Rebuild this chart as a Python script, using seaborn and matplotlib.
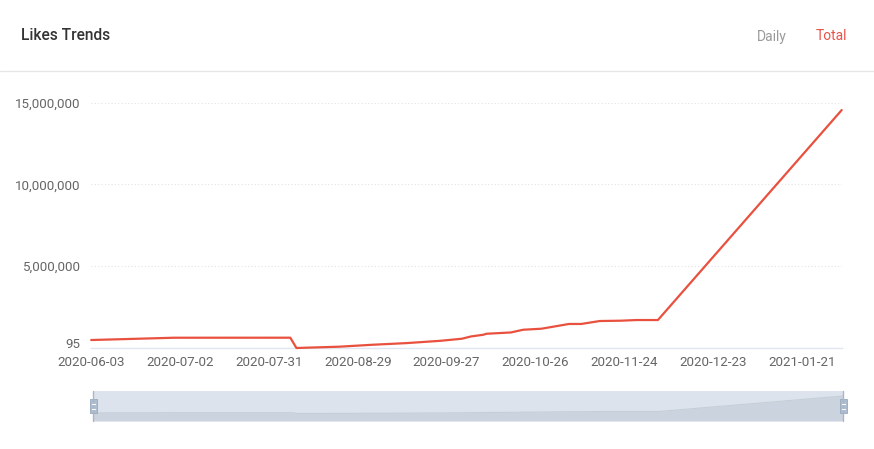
import matplotlib
matplotlib.use("Agg")
import matplotlib.pyplot as plt
import matplotlib.patches as mpatches
from matplotlib.lines import Line2D
import seaborn as sns
import pandas as pd

# ---- data ----
dates = ["2020-06-03", "2020-06-17", "2020-06-30", "2020-08-07", "2020-08-09",
         "2020-08-23", "2020-09-03", "2020-09-14", "2020-09-25", "2020-10-02",
         "2020-10-05", "2020-10-09", "2020-10-10", "2020-10-18", "2020-10-22",
         "2020-10-28", "2020-11-06", "2020-11-10", "2020-11-16", "2020-11-23",
         "2020-11-28", "2020-12-05", "2021-02-03"]
likes = [488000, 560000, 628000, 630000, 95,
         80000, 200000, 300000, 440000, 567000,
         707000, 810000, 870000, 950000, 1116000,
         1180000, 1470000, 1470000, 1650000, 1670000,
         1710000, 1710000, 14550000]
tick_dates = ["2020-06-03", "2020-07-02", "2020-07-31", "2020-08-29", "2020-09-27",
              "2020-10-26", "2020-11-24", "2020-12-23", "2021-01-21"]
y_ticks = [95, 5000000, 10000000, 15000000]
x_start, x_end = "2020-06-03", "2021-02-03"
title = "Likes Trends"
toggles = ["Daily", "Total"]

LINE = "#e9513f"
W, H = 874, 449

sns.set_theme(style="white")
plt.rcParams['font.family'] = ['Roboto', 'DejaVu Sans']

df = pd.DataFrame({"date": pd.to_datetime(dates), "likes": likes})

fig = plt.figure(figsize=(W / 100, H / 100), dpi=100)

def fx(px):
    return px / W

def fy(py):
    return 1 - py / H

# main axes
ax = fig.add_axes([fx(91.2), fy(348), fx(841.7 - 91.2), (348 - 102.7) / H])
sns.lineplot(data=df, x="date", y="likes", ax=ax, color=LINE, linewidth=1.6)
for ln in ax.lines:
    ln.set_clip_on(False)
ax.set_xlim(pd.Timestamp(x_start), pd.Timestamp(x_end))
ax.set_ylim(y_ticks[0], y_ticks[-1])
ax.set_xticks(pd.to_datetime(tick_dates))
ax.set_xticklabels(tick_dates)
ax.set_yticks(y_ticks)
ax.set_yticklabels([f"{v:,}" for v in y_ticks])
ax.set_xlabel("")
ax.set_ylabel("")
ax.tick_params(axis="both", length=0, labelsize=9.6, colors="#666666")
ax.tick_params(axis="x", pad=6)
ax.tick_params(axis="y", pad=8)
for s in ["top", "right", "left"]:
    ax.spines[s].set_visible(False)
ax.spines["bottom"].set_color("#e0e6f1")
ax.spines["bottom"].set_linewidth(1)
ax.spines["bottom"].set_zorder(0)
ax.yaxis.grid(True, linestyle=(0, (1, 2)), color="#e3e3e3", linewidth=0.8)
ax.xaxis.grid(False)
ax.set_axisbelow(True)
# keep the bottom "95" label just above the date labels
ax.get_yticklabels()[0].set_va("baseline")

# header
fig.text(fx(21), fy(35), title, fontsize=11.2, fontweight="medium",
         color="#333333", va="center", ha="left")
fig.text(fx(757), fy(36.5), toggles[0], fontsize=10, color="#9a9a9a",
         va="center", ha="left")
fig.text(fx(816), fy(36.5), toggles[1], fontsize=10, color="#e8544a",
         va="center", ha="left")
fig.add_artist(Line2D([0, 1], [fy(70.7), fy(70.7)], color="#e6e6e6", lw=1))

# slider (data zoom)
sax = fig.add_axes([fx(93.3), fy(421), fx(843.3 - 93.3), 30 / H])
sax.set_facecolor("#dce3ec")
lo, hi = -6240000, 18700000
sns.lineplot(data=df, x="date", y="likes", ax=sax, color="#c5cdd8", linewidth=0.8)
sax.fill_between(df["date"], df["likes"], lo, color="#cbd3de", linewidth=0)
sax.set_xlim(pd.Timestamp(x_start), pd.Timestamp(x_end))
sax.set_ylim(lo, hi)
sax.set_xticks([])
sax.set_yticks([])
sax.set_xlabel("")
sax.set_ylabel("")
for s in sax.spines.values():
    s.set_visible(False)

for hx in (93.3, 843.3):
    fig.add_artist(Line2D([fx(hx), fx(hx)], [fy(391), fy(421)], color="#a9b6c8", lw=1))
    fig.add_artist(mpatches.Rectangle((fx(hx - 3.3), fy(413)), fx(6.6), 14 / H,
                                      facecolor="#aebdd0", edgecolor="#97a8bf", lw=0.6))
    for yy in (403.5, 408.5):
        fig.add_artist(Line2D([fx(hx - 1.8), fx(hx + 1.8)], [fy(yy), fy(yy)],
                              color="white", lw=0.8))

fig.savefig("out.png", dpi=100)
